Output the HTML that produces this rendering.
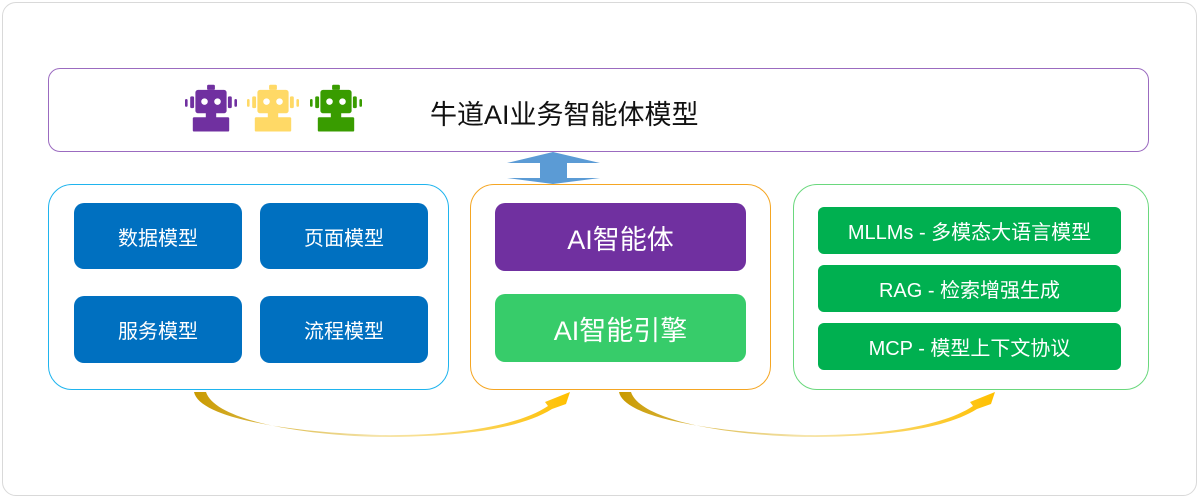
<!DOCTYPE html>
<html><head><meta charset="utf-8"><style>
body{margin:0;width:1200px;height:498px;background:#fff;font-family:"Liberation Sans","Noto Sans CJK SC",sans-serif;position:relative;overflow:hidden}
.a{position:absolute;box-sizing:border-box}
.t{display:flex;align-items:center;justify-content:center;color:#fff}
</style></head><body>
<div class="a" style="left:2px;top:2px;width:1195px;height:494px;border:1px solid #d9d9d9;border-radius:14px"></div>
<div class="a" style="left:48px;top:68px;width:1101px;height:84px;border:1.5px solid #9b6bc0;border-radius:12px"></div>
<svg class="a" style="left:0;top:0" width="1200" height="498">
<defs>
<linearGradient id="g" x1="0" x2="1" y1="0" y2="0"><stop offset="0" stop-color="#c99a00"/><stop offset="0.5" stop-color="#f6e6b0"/><stop offset="1" stop-color="#ffc000"/></linearGradient>
<g id="bot"><rect x="-3" y="-1" width="6" height="4" rx="1"/><rect x="-12" y="3" width="24" height="18" rx="2"/><rect x="-16" y="8" width="3" height="9" rx="1"/><rect x="13" y="8" width="3" height="9" rx="1"/><rect x="-20" y="10" width="2" height="6" rx="1"/><rect x="18" y="10" width="2" height="6" rx="1"/><rect x="-14" y="24" width="28" height="11" rx="1"/><rect x="-4" y="20" width="8" height="5"/><circle cx="-5" cy="12" r="2.5" fill="#fff"/><circle cx="5" cy="12" r="2.5" fill="#fff"/></g>
</defs>
<use href="#bot" transform="translate(211,86) scale(1.3)" fill="#7030a0"/>
<use href="#bot" transform="translate(273,86) scale(1.3)" fill="#ffd966"/>
<use href="#bot" transform="translate(336,86) scale(1.3)" fill="#399c00"/>
<polygon points="553,152 600,163 567,163 567,178 600,178 553,184 507,178 540,178 540,163 507,163" fill="#5b9bd5"/>
<path d="M194,392 C200,420 300,433 380,435 C460,436 520,425 548,406 L545,402 L570,392 L566,404 L552,409 C520,429 460,437 380,437 C300,435 215,420 206,392 Z" fill="url(#g)"/>
<path d="M619,392 C625,420 725,433 805,435 C885,436 945,425 973,406 L970,402 L995,392 L991,404 L977,409 C945,429 885,437 805,437 C725,435 640,420 631,392 Z" fill="url(#g)"/>
</svg>
<div class="a" style="left:430px;top:93px;font-size:27px;color:#111">牛道AI业务智能体模型</div>
<div class="a" style="left:48px;top:184px;width:401px;height:206px;border:1.5px solid #1fb4ee;border-radius:24px"></div>
<div class="a t" style="left:74px;top:203px;width:168px;height:66px;background:#0070c0;border-radius:10px;font-size:20px">数据模型</div>
<div class="a t" style="left:260px;top:203px;width:168px;height:66px;background:#0070c0;border-radius:10px;font-size:20px">页面模型</div>
<div class="a t" style="left:74px;top:296px;width:168px;height:67px;background:#0070c0;border-radius:10px;font-size:20px">服务模型</div>
<div class="a t" style="left:260px;top:296px;width:168px;height:67px;background:#0070c0;border-radius:10px;font-size:20px">流程模型</div>
<div class="a" style="left:470px;top:184px;width:301px;height:206px;border:1.5px solid #f5a623;border-radius:24px"></div>
<div class="a t" style="left:495px;top:203px;width:251px;height:68px;background:#7030a0;border-radius:10px;font-size:27px">AI智能体</div>
<div class="a t" style="left:495px;top:294px;width:251px;height:68px;background:#37cc6a;border-radius:10px;font-size:27px">AI智能引擎</div>
<div class="a" style="left:793px;top:184px;width:356px;height:206px;border:1.5px solid #6ad87d;border-radius:24px"></div>
<div class="a t" style="left:818px;top:207px;width:303px;height:47px;background:#00b050;border-radius:6px;font-size:20px">MLLMs - 多模态大语言模型</div>
<div class="a t" style="left:818px;top:265px;width:303px;height:47px;background:#00b050;border-radius:6px;font-size:20px">RAG - 检索增强生成</div>
<div class="a t" style="left:818px;top:323px;width:303px;height:47px;background:#00b050;border-radius:6px;font-size:20px">MCP - 模型上下文协议</div>
</body></html>
